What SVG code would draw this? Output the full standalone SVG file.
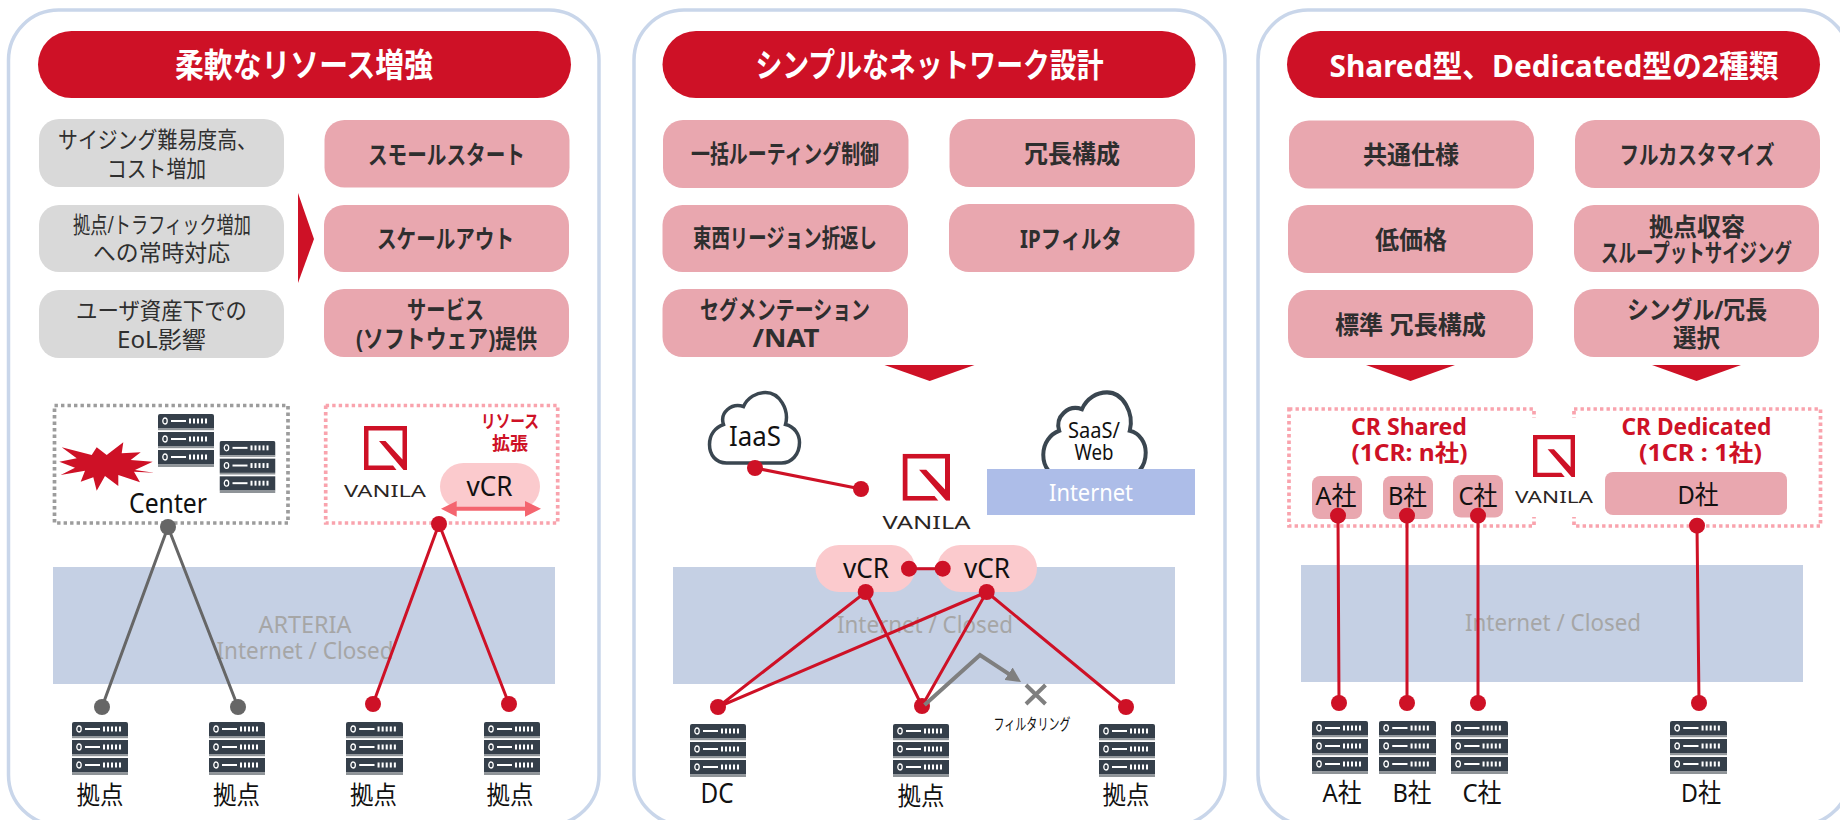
<svg xmlns="http://www.w3.org/2000/svg" xmlns:xlink="http://www.w3.org/1999/xlink" width="1840" height="820" viewBox="0 0 1840 820">
<style>
text{font-family:"Noto Sans","Noto Sans CJK JP",sans-serif;text-anchor:middle;fill:#111}
.title{font-size:33px;font-weight:700;fill:#fff}
.g{font-size:23px;fill:#2f2f2f}
.p{font-size:25px;font-weight:700;fill:#2e2e2e}
.n{font-size:25px}
.band-t{font-size:24px;fill:#a6a6a6}
.redt{font-weight:700;fill:#ce1126}
.logo{font-size:17px;fill:#2b2523}
.panel{fill:#fff;stroke:#c9d6ea;stroke-width:3.5}
.pill{fill:#ce1126}
.gb{fill:#d9d9d9}
.pb{fill:#e9a7af}
.band{fill:#c5d0e4}
.vcr{fill:#fbcacd}
.red{fill:#ce1126}
.dg{fill:none;stroke:#9c9c9c;stroke-width:3.7;stroke-dasharray:3.4 3.1}
.dr{fill:none;stroke:#f9a3ad;stroke-width:3.7;stroke-dasharray:3.4 3.1}
.lr{stroke:#ce1126;stroke-width:3;fill:none}
.lg{stroke:#666;stroke-width:3;fill:none}
.cr{fill:#ce1126}
.cg{fill:#666}
.cloud{fill:#fff;stroke:#3a4650;stroke-width:3.5}
</style>
<defs>
<symbol id="srv" viewBox="0 0 56 53" width="56" height="53" preserveAspectRatio="none">
<path d="M2 0H54Q56 0 56 2V14.5H0V2Q0 0 2 0Z" fill="#353f4a"/>
<rect y="18" width="56" height="14.5" fill="#353f4a"/>
<rect y="36" width="56" height="14.5" fill="#353f4a"/>
<rect y="14.5" width="56" height="1.7" fill="#8f9498"/>
<rect y="32.5" width="56" height="1.7" fill="#8f9498"/>
<rect y="50.5" width="56" height="2.5" fill="#8f9498"/>
<g id="srow" fill="#fff">
<ellipse cx="7" cy="7" rx="2.2" ry="3" fill="none" stroke="#fff" stroke-width="1.3"/>
<rect x="13" y="6" width="15" height="2"/>
<rect x="31" y="4.5" width="2" height="5"/><rect x="35" y="4.5" width="2" height="5"/><rect x="39" y="4.5" width="2" height="5"/><rect x="43" y="4.5" width="2" height="5"/><rect x="47" y="4.5" width="2" height="5"/>
</g>
<use xlink:href="#srow" href="#srow" y="18"/>
<use xlink:href="#srow" href="#srow" y="36"/>
</symbol>
<symbol id="mark" viewBox="0 0 43 44" preserveAspectRatio="none">
<path fill="#ce1126" d="M0 0H43V44H39.5L15 15H21.5L38.5 33.5V4.5H4.5V39.5H29L32.5 44H0Z"/>
</symbol>
<symbol id="cl" viewBox="-2 -2 94 75" preserveAspectRatio="none" overflow="visible">
<path d="M17 70.5C6 70.5 0 62 0 52C0 42 6 35 14 32C10 20 22 10 34 14C38 5 47 0 56 0C70 0 80 17 76 32C85 34 90 42 90 50C90 62 82 70.5 72 70.5Z"/>
</symbol>
<marker id="ah" viewBox="0 0 10 10" refX="2" refY="5" markerUnits="userSpaceOnUse" markerWidth="15" markerHeight="15" orient="auto"><path d="M0 0L10 5L0 10Z" fill="#7f7f7f"/></marker>
</defs>
<rect width="1840" height="820" fill="#fff"/>

<g id="panel-1">
<rect class="panel" x="8.5" y="10" width="590.500" height="815" rx="50"/>
</g>
<g id="panel-2">
<rect class="panel" x="634" y="10" width="591" height="815" rx="50"/>
</g>
<g id="panel-3">
<rect class="panel" x="1258" y="10" width="592" height="815" rx="50"/>
</g>

<g id="title-1"><rect class="pill" x="38" y="31" width="533" height="67" rx="33.500"/><text class="title" x="304" y="77" textLength="258" lengthAdjust="spacingAndGlyphs">柔軟なリソース増強</text></g>
<g id="title-2"><rect class="pill" x="662.500" y="31" width="533" height="67" rx="33.500"/><text class="title" x="929.500" y="77" textLength="348" lengthAdjust="spacingAndGlyphs">シンプルなネットワーク設計</text></g>
<g id="title-3"><rect class="pill" x="1287" y="31" width="533" height="67" rx="33.500"/><text class="title" style="font-size:31px" x="1554" y="77" textLength="449" lengthAdjust="spacingAndGlyphs">Shared型、Dedicated型の2種類</text></g>

<g id="g1"><rect class="gb" x="39" y="119" width="245" height="68" rx="20"/><text class="g" x="157.500" y="148" textLength="199" lengthAdjust="spacingAndGlyphs">サイジング難易度高、</text><text class="g" x="156.500" y="177" textLength="99" lengthAdjust="spacingAndGlyphs">コスト増加</text></g>
<g id="g2"><rect class="gb" x="39" y="205" width="245" height="67" rx="20"/><text class="g" x="162" y="233" textLength="178" lengthAdjust="spacingAndGlyphs">拠点/トラフィック増加</text><text class="g" x="161.500" y="261" textLength="137" lengthAdjust="spacingAndGlyphs">への常時対応</text></g>
<g id="g3"><rect class="gb" x="39" y="290" width="245" height="68" rx="20"/><text class="g" x="161.500" y="319" textLength="171" lengthAdjust="spacingAndGlyphs">ユーザ資産下での</text><text class="g" x="161.500" y="348" textLength="89" lengthAdjust="spacingAndGlyphs">EoL影響</text></g>

<g id="p1"><rect class="pb" x="324.500" y="120" width="245" height="67.500" rx="20"/><text class="p" x="446.500" y="164" textLength="157" lengthAdjust="spacingAndGlyphs">スモールスタート</text></g>
<g id="p2"><rect class="pb" x="324" y="205" width="245" height="67" rx="20"/><text class="p" x="445.500" y="248" textLength="137" lengthAdjust="spacingAndGlyphs">スケールアウト</text></g>
<g id="p3"><rect class="pb" x="324" y="289" width="245" height="68" rx="20"/><text class="p" x="445.500" y="319" textLength="77" lengthAdjust="spacingAndGlyphs">サービス</text><text class="p" x="446.500" y="348" textLength="181" lengthAdjust="spacingAndGlyphs">(ソフトウェア)提供</text></g>
<polygon id="chevron-1" class="red" points="298,193 314,239 298,283"/>

<g id="q1"><rect class="pb" x="663" y="120" width="245.500" height="68" rx="20"/><text class="p" x="785" y="163" textLength="188" lengthAdjust="spacingAndGlyphs">一括ルーティング制御</text></g>
<g id="q2"><rect class="pb" x="662.500" y="205" width="245.500" height="67" rx="20"/><text class="p" x="785" y="247" textLength="184" lengthAdjust="spacingAndGlyphs">東西リージョン折返し</text></g>
<g id="q3"><rect class="pb" x="662.500" y="289" width="245.500" height="68" rx="20"/><text class="p" x="785" y="319" textLength="170" lengthAdjust="spacingAndGlyphs">セグメンテーション</text><text class="p" x="786" y="347" textLength="67" lengthAdjust="spacingAndGlyphs">/NAT</text></g>
<g id="q4"><rect class="pb" x="949.500" y="119" width="245.500" height="68" rx="20"/><text class="p" x="1072" y="163" textLength="96" lengthAdjust="spacingAndGlyphs">冗長構成</text></g>
<g id="q5"><rect class="pb" x="949" y="204" width="245.500" height="68" rx="20"/><text class="p" x="1071" y="248" textLength="102" lengthAdjust="spacingAndGlyphs">IPフィルタ</text></g>
<polygon id="down-2" class="red" points="884.500,365 974.500,365 929.700,381"/>

<g id="r1"><rect class="pb" x="1289" y="120.500" width="245" height="68" rx="20"/><text class="p" x="1411" y="164" textLength="96" lengthAdjust="spacingAndGlyphs">共通仕様</text></g>
<g id="r2"><rect class="pb" x="1288" y="205" width="245" height="68" rx="20"/><text class="p" x="1411" y="249" textLength="72" lengthAdjust="spacingAndGlyphs">低価格</text></g>
<g id="r3"><rect class="pb" x="1288" y="290" width="245" height="68" rx="20"/><text class="p" x="1410.500" y="334" textLength="151" lengthAdjust="spacingAndGlyphs">標準 冗長構成</text></g>
<g id="r4"><rect class="pb" x="1575" y="120" width="245" height="68" rx="20"/><text class="p" x="1697" y="164" textLength="155" lengthAdjust="spacingAndGlyphs">フルカスタマイズ</text></g>
<g id="r5"><rect class="pb" x="1574" y="205" width="245" height="67" rx="20"/><text class="p" x="1697" y="236" textLength="96" lengthAdjust="spacingAndGlyphs">拠点収容</text><text class="p" x="1696.500" y="262" textLength="191" lengthAdjust="spacingAndGlyphs">スループットサイジング</text></g>
<g id="r6"><rect class="pb" x="1574" y="289" width="245" height="68" rx="20"/><text class="p" x="1697" y="319" textLength="140" lengthAdjust="spacingAndGlyphs">シングル/冗長</text><text class="p" x="1696.500" y="347" textLength="47" lengthAdjust="spacingAndGlyphs">選択</text></g>
<polygon id="down-3a" class="red" points="1366,365 1455,365 1410.500,381"/>
<polygon id="down-3b" class="red" points="1652,365 1741,365 1696.500,381"/>

<g id="band-1"><rect class="band" x="53" y="567" width="502" height="117"/><text class="band-t" x="305" y="633" textLength="93" lengthAdjust="spacingAndGlyphs">ARTERIA</text><text class="band-t" x="305" y="659" textLength="177" lengthAdjust="spacingAndGlyphs">Internet / Closed</text></g>
<g id="band-2"><rect class="band" x="673" y="567" width="502" height="117"/><text class="band-t" x="925" y="633" textLength="176" lengthAdjust="spacingAndGlyphs">Internet / Closed</text></g>
<g id="band-3"><rect class="band" x="1301" y="565" width="502" height="117"/><text class="band-t" x="1553" y="631" textLength="176" lengthAdjust="spacingAndGlyphs">Internet / Closed</text></g>

<g id="center">
<rect class="dg" x="54.500" y="405.500" width="233.500" height="117.500"/>
<polygon class="red" points="61.700,447.300 91.700,455 96.700,447.300 106.700,455 123.300,442.300 121.700,453.300 140.700,452.300 130.700,460 152.700,461.700 135,470 154,472.700 134,471.700 140,482.300 118.300,475 118.300,486 105,476 96.700,490.700 93.300,477.300 80.700,481.700 85,470.700 60.700,475 75,467.700 59.300,461.700 76.700,458.300"/>
<use xlink:href="#srv" href="#srv" x="158" y="414" width="56" height="53"/>
<use xlink:href="#srv" href="#srv" x="219.500" y="441" width="56" height="52"/>
<text class="n" style="font-size:27px" x="168" y="513" textLength="78" lengthAdjust="spacingAndGlyphs">Center</text>
</g>
<g id="vcr-box">
<rect class="dr" x="325.700" y="405.500" width="232" height="117.500"/>
<use xlink:href="#mark" href="#mark" x="364" y="426" width="43" height="44"/>
<text class="logo" x="385" y="497" textLength="82" lengthAdjust="spacingAndGlyphs">VANILA</text>
<text class="redt" font-size="18" x="510" y="428" textLength="58" lengthAdjust="spacingAndGlyphs">リソース</text>
<text class="redt" font-size="18" x="510" y="450" textLength="36" lengthAdjust="spacingAndGlyphs">拡張</text>
<rect class="vcr" x="440" y="463" width="100" height="47" rx="23.500"/>
<text class="n" style="font-size:27px" x="489.500" y="496" textLength="46" lengthAdjust="spacingAndGlyphs">vCR</text>
<polygon fill="#f4656f" points="441,508.700 456.700,501 456.700,506.700 525,506.700 525,501 541,508.700 525,516.700 525,510.700 456.700,510.700 456.700,516.700"/>
</g>
<g id="s1"><use xlink:href="#srv" href="#srv" x="72" y="722" width="56" height="53"/><text class="n" x="100" y="804" textLength="47" lengthAdjust="spacingAndGlyphs">拠点</text></g>
<g id="s2"><use xlink:href="#srv" href="#srv" x="209" y="722" width="56" height="53"/><text class="n" x="236.500" y="804" textLength="47" lengthAdjust="spacingAndGlyphs">拠点</text></g>
<g id="s3"><use xlink:href="#srv" href="#srv" x="346" y="722" width="57" height="53"/><text class="n" x="373.500" y="804" textLength="47" lengthAdjust="spacingAndGlyphs">拠点</text></g>
<g id="s4"><use xlink:href="#srv" href="#srv" x="484" y="722" width="56" height="53"/><text class="n" x="510" y="804" textLength="47" lengthAdjust="spacingAndGlyphs">拠点</text></g>

<g id="iaas"><use class="cloud" xlink:href="#cl" href="#cl" x="707.500" y="390.500" width="94" height="75"/><text class="n" style="font-size:27px" x="755" y="446" textLength="52" lengthAdjust="spacingAndGlyphs">IaaS</text></g>
<g id="saas"><use class="cloud" xlink:href="#cl" href="#cl" x="1041" y="390" width="107" height="90"/><text class="n" style="font-size:22px" x="1094" y="438" textLength="52" lengthAdjust="spacingAndGlyphs">SaaS/</text><text class="n" style="font-size:22px" x="1094" y="460" textLength="39" lengthAdjust="spacingAndGlyphs">Web</text></g>
<g id="internet"><rect fill="#adbde8" x="987" y="469" width="208" height="46"/><text class="n" style="font-size:24px;fill:#fff" x="1091" y="500.500" textLength="84" lengthAdjust="spacingAndGlyphs">Internet</text></g>
<g id="vanila-2"><use xlink:href="#mark" href="#mark" x="902.500" y="453.700" width="47.500" height="47"/><text class="logo" style="font-size:18px" x="926.500" y="529" textLength="88" lengthAdjust="spacingAndGlyphs">VANILA</text></g>
<g id="vcr-a"><rect class="vcr" x="815.500" y="545" width="99.500" height="47" rx="23.500"/><text class="n" style="font-size:27px" x="866" y="578" textLength="46" lengthAdjust="spacingAndGlyphs">vCR</text></g>
<g id="vcr-b"><rect class="vcr" x="937" y="545" width="100" height="47" rx="23.500"/><text class="n" style="font-size:27px" x="987" y="578" textLength="46" lengthAdjust="spacingAndGlyphs">vCR</text></g>
<g id="dc"><use xlink:href="#srv" href="#srv" x="690" y="724" width="56" height="53"/><text class="n" style="font-size:27px" x="717" y="803" textLength="33" lengthAdjust="spacingAndGlyphs">DC</text></g>
<g id="s5"><use xlink:href="#srv" href="#srv" x="893" y="724" width="56" height="53"/><text class="n" x="921" y="805" textLength="47" lengthAdjust="spacingAndGlyphs">拠点</text></g>
<g id="s6"><use xlink:href="#srv" href="#srv" x="1099" y="724" width="56" height="53"/><text class="n" x="1126" y="804" textLength="47" lengthAdjust="spacingAndGlyphs">拠点</text></g>
<g id="filter"><path d="M1026 685L1045.500 704M1045.500 685L1026 704" stroke="#7f7f7f" stroke-width="4" fill="none"/><text style="font-size:16px" x="1032" y="730" textLength="77" lengthAdjust="spacingAndGlyphs">フィルタリング</text></g>

<g id="cr-shared">
<rect class="dr" x="1289" y="409" width="245" height="117"/>
<text class="redt" font-size="23" x="1409" y="435" textLength="116" lengthAdjust="spacingAndGlyphs">CR Shared</text>
<text class="redt" font-size="23" x="1409.500" y="461" textLength="116" lengthAdjust="spacingAndGlyphs">(1CR: n社)</text>
</g>
<g id="cr-dedicated">
<rect class="dr" x="1574" y="409" width="246.500" height="117"/>
<text class="redt" font-size="23" x="1696.500" y="435" textLength="150" lengthAdjust="spacingAndGlyphs">CR Dedicated</text>
<text class="redt" font-size="23" x="1700.500" y="461" textLength="123" lengthAdjust="spacingAndGlyphs">(1CR : 1社)</text>
</g>
<g id="vanila-3"><rect fill="#fff" x="1530" y="418" width="48" height="99"/><use xlink:href="#mark" href="#mark" x="1533" y="435" width="42" height="42"/><text class="logo" x="1554" y="503" textLength="78" lengthAdjust="spacingAndGlyphs">VANILA</text></g>
<g id="a-box"><rect class="pb" x="1312" y="476" width="50" height="43" rx="8"/><text class="n" style="font-size:26px" x="1336" y="505" textLength="41" lengthAdjust="spacingAndGlyphs">A社</text></g>
<g id="b-box"><rect class="pb" x="1383" y="476" width="50" height="43" rx="8"/><text class="n" style="font-size:26px" x="1407.500" y="505" textLength="39" lengthAdjust="spacingAndGlyphs">B社</text></g>
<g id="c-box"><rect class="pb" x="1453" y="475" width="50" height="42.500" rx="8"/><text class="n" style="font-size:26px" x="1478" y="505" textLength="39" lengthAdjust="spacingAndGlyphs">C社</text></g>
<g id="d-box"><rect class="pb" x="1605" y="472" width="182" height="43" rx="8"/><text class="n" style="font-size:26px" x="1698" y="504" textLength="41" lengthAdjust="spacingAndGlyphs">D社</text></g>
<g id="sa"><use xlink:href="#srv" href="#srv" x="1312" y="721" width="56" height="53"/><text class="n" style="font-size:26px" x="1342" y="802" textLength="39" lengthAdjust="spacingAndGlyphs">A社</text></g>
<g id="sb"><use xlink:href="#srv" href="#srv" x="1379" y="721" width="57" height="53"/><text class="n" style="font-size:26px" x="1412" y="802" textLength="39" lengthAdjust="spacingAndGlyphs">B社</text></g>
<g id="sc"><use xlink:href="#srv" href="#srv" x="1451" y="721" width="57" height="53"/><text class="n" style="font-size:26px" x="1482" y="802" textLength="39" lengthAdjust="spacingAndGlyphs">C社</text></g>
<g id="sd"><use xlink:href="#srv" href="#srv" x="1670" y="721" width="57" height="53"/><text class="n" style="font-size:26px" x="1701" y="802" textLength="40" lengthAdjust="spacingAndGlyphs">D社</text></g>

<g id="connectors">
<path class="lg" d="M102 707L168 527L238 707"/>
<circle class="cg" cx="168" cy="527" r="8"/><circle class="cg" cx="102" cy="707" r="8"/><circle class="cg" cx="238" cy="707" r="8"/>
<path class="lr" d="M373 704L439 524L509 704"/>
<circle class="cr" cx="439" cy="524" r="8"/><circle class="cr" cx="373" cy="704" r="8"/><circle class="cr" cx="509" cy="704" r="8"/>
<path class="lr" d="M755 468L861 489M909 568.700H942.700M718 707L865.700 592L922 706L986.700 592L718 707M986.700 592L1126 707"/>
<circle class="cr" cx="755" cy="468" r="8"/><circle class="cr" cx="861" cy="489" r="8"/><circle class="cr" cx="909" cy="568.700" r="8"/><circle class="cr" cx="942.700" cy="568.700" r="8"/>
<circle class="cr" cx="865.700" cy="592" r="8"/><circle class="cr" cx="986.700" cy="592" r="8"/><circle class="cr" cx="718" cy="707" r="8"/><circle class="cr" cx="922" cy="706" r="8"/><circle class="cr" cx="1126" cy="707" r="8"/>
<polyline points="924.500,705 980,655 1011,675.400" fill="none" stroke="#7f7f7f" stroke-width="4" marker-end="url(#ah)"/>
<path class="lr" d="M1338 516L1339 703M1407 516V703M1478 516V703M1697 526L1699 703"/>
<circle class="cr" cx="1338" cy="515.700" r="8"/><circle class="cr" cx="1407" cy="515.700" r="8"/><circle class="cr" cx="1478" cy="515.700" r="8"/><circle class="cr" cx="1697" cy="525.700" r="8"/>
<circle class="cr" cx="1339" cy="703" r="8"/><circle class="cr" cx="1407" cy="703" r="8"/><circle class="cr" cx="1478" cy="703" r="8"/><circle class="cr" cx="1699" cy="703" r="8"/>
</g>
</svg>
